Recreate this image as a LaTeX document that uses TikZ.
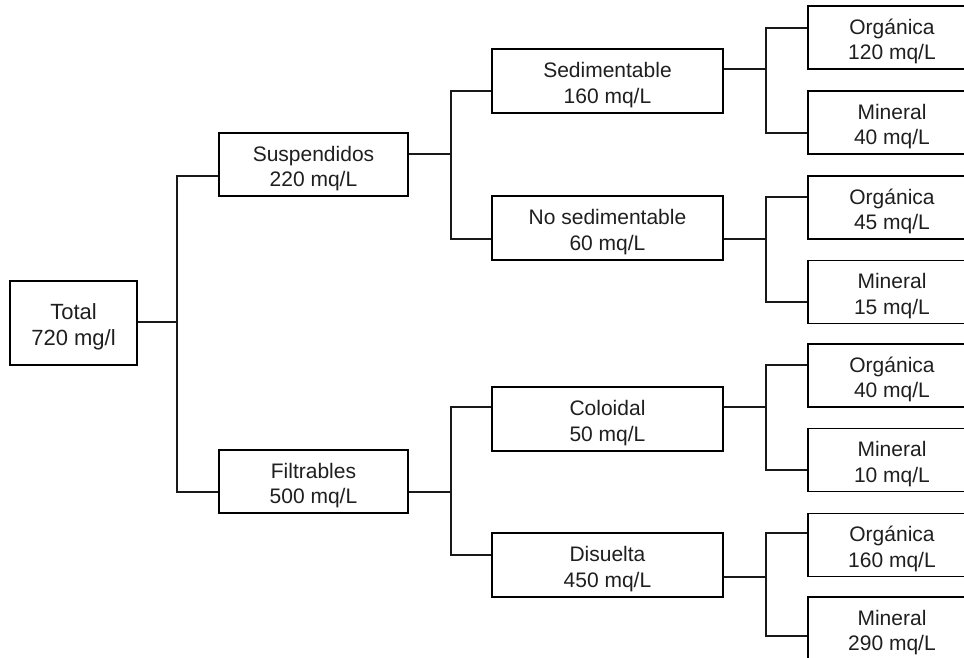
\documentclass[tikz,border=0pt]{standalone}
\usepackage{fontspec}
\setmainfont{Liberation Sans}
% taller first line, so both text lines sit a little below the box centre
\newcommand\boxstrut{\rule{0pt}{23.5pt}}
\begin{document}
\begin{tikzpicture}[x=1pt,y=-1pt,
  line width=1.6pt,
  box/.style={draw, rectangle, inner sep=0pt, align=center,
    font=\fontsize{21}{25.5}\selectfont, text=black!88},
  midbox/.style={box, minimum width=189pt, minimum height=63pt},
  wide/.style={box, minimum width=231pt, minimum height=64pt},
  leaf/.style={box, minimum width=168pt, minimum height=63pt},
  link/.style={draw=black!90}]
  % canvas, clipped so the outer boxes run off the edges
  \clip (0,0) rectangle (964,657);
  \fill[white] (0,0) rectangle (964,657);

  % bus positions of the vertical connectors
  \coordinate (b0) at (177,0);
  \coordinate (b1) at (451,0);
  \coordinate (b2) at (766,0);

  % boxes
  \node[box, minimum width=127pt, minimum height=84pt, font=\fontsize{22}{26.5}\selectfont] (total) at (73.5,323) {\boxstrut Total\\720 mg/l};
  \node[midbox] (susp) at (313.5,164.5) {\boxstrut Suspendidos\\220 mq/L};
  \node[midbox] (filt) at (313.5,481.5) {\boxstrut Filtrables\\500 mq/L};
  \node[wide] (sed)   at (607.5,81)  {\boxstrut Sedimentable\\160 mq/L};
  \node[wide] (nosed) at (607.5,228) {\boxstrut No sedimentable\\60 mq/L};
  \node[wide] (col)   at (607.5,419) {\boxstrut Coloidal\\50 mq/L};
  \node[wide] (dis)   at (607.5,565) {\boxstrut Disuelta\\450 mq/L};
  \node[leaf] (o1) at (892,37.5)  {\boxstrut Orgánica\\120 mq/L};
  \node[leaf] (m1) at (892,122.5) {\boxstrut Mineral\\40 mq/L};
  \node[leaf] (o2) at (892,207.5) {\boxstrut Orgánica\\45 mq/L};
  \node[leaf] (m2) at (892,292)   {\boxstrut Mineral\\15 mq/L};
  \node[leaf] (o3) at (892,375.5) {\boxstrut Orgánica\\40 mq/L};
  \node[leaf] (m3) at (892,460)   {\boxstrut Mineral\\10 mq/L};
  \node[leaf] (o4) at (892,545)   {\boxstrut Orgánica\\160 mq/L};
  \node[leaf] (m4) at (892,628.5) {\boxstrut Mineral\\290 mq/L};

  % level 1
  \draw[link] (total.east |- 0,322) -- (b0 |- 0,322);
  \draw[link] (susp.west |- 0,176) -| (b0 |- 0,322) |- (filt.west |- 0,492);

  % level 2
  \draw[link] (susp.east |- 0,154) -- (b1 |- 0,154);
  \draw[link] (sed.west |- 0,91) -| (b1 |- 0,154) |- (nosed.west |- 0,239);
  \draw[link] (filt.east |- 0,492) -- (b1 |- 0,492);
  \draw[link] (col.west |- 0,407) -| (b1 |- 0,492) |- (dis.west |- 0,555);

  % level 3
  \draw[link] (sed.east |- 0,69) -- (b2 |- 0,69);
  \draw[link] (o1.west |- 0,28) -| (b2 |- 0,69) |- (m1.west |- 0,133);
  \draw[link] (nosed.east |- 0,239) -- (b2 |- 0,239);
  \draw[link] (o2.west |- 0,197) -| (b2 |- 0,239) |- (m2.west |- 0,302);
  \draw[link] (col.east |- 0,407) -- (b2 |- 0,407);
  \draw[link] (o3.west |- 0,365) -| (b2 |- 0,407) |- (m3.west |- 0,470);
  \draw[link] (dis.east |- 0,577) -- (b2 |- 0,577);
  \draw[link] (o4.west |- 0,533) -| (b2 |- 0,577) |- (m4.west |- 0,636);
\end{tikzpicture}
\end{document}
